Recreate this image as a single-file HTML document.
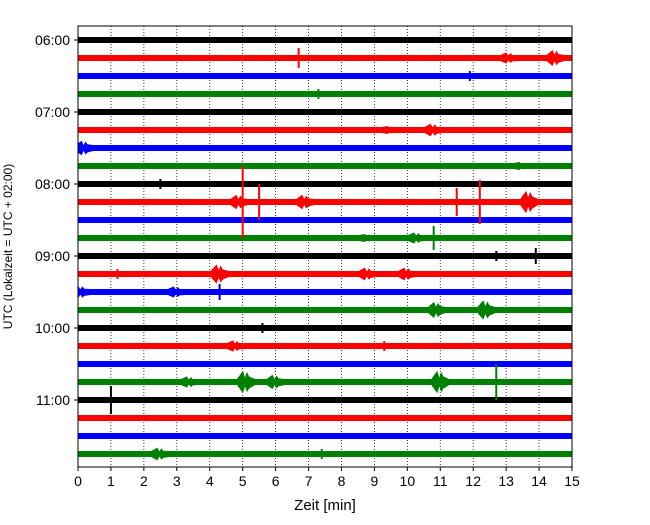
<!DOCTYPE html>
<html><head><meta charset="utf-8"><style>
body{margin:0;background:#fff;}
svg text{font-family:"Liberation Sans",sans-serif;}
</style></head><body>
<svg id="chart" width="650" height="520"><defs><clipPath id="pc"><rect x="78" y="26" width="494" height="441"/></clipPath></defs></svg>
<script>
const rowLabels=["06:00","","","","07:00","","","","08:00","","","","09:00","","","","10:00","","","","11:00","","",""];
const rowColors=["#000000","#ff0000","#0000ff","#008000"];
const xTicks=[0,1,2,3,4,5,6,7,8,9,10,11,12,13,14,15];
// events: [row, minute, halfAmplitudePx, type]
const eventRows=[1,1,1,2,3,5,5,6,7,8,9,9,9,9,9,9,9,11,11,11,12,12,13,13,13,13,14,14,14,15,15,16,17,17,19,19,19,19,19,20,23,23];
const eventMinutes=[6.7,13.1,14.5,11.9,7.3,10.8,9.5,0.2,13.5,2.5,5.0,5.5,6.9,11.5,12.2,13.7,4.9,10.8,10.3,8.8,13.9,12.7,4.3,8.8,10.0,1.2,0.1,3.0,4.3,10.9,12.4,5.6,4.8,9.3,5.1,6.0,3.4,11.0,12.7,1.0,2.5,7.4];
const eventAmps=[10,7,10,5,5,8,5,9,5,5,36,18,9,14,22,14,9,12,7,5,8,5,12,8,8,5,8,7,8,10,12,5,7,5,14,9,7,14,18,14,8,5];
const eventTypes=["s","b","b","s","s","b","b","b","b","s","s","s","b","s","s","b","b","s","b","b","s","s","b","b","b","s","b","b","s","b","b","s","b","s","b","b","b","b","s","s","b","s"];
const NS="http://www.w3.org/2000/svg";
const svg=document.getElementById('chart');
const L=78,R=572,T=26,B=467;
const x=m=>L+(m/15)*(R-L);
const y=r=>40+r*18;
function mk(tag,attrs,parent){const e=document.createElementNS(NS,tag);for(const k in attrs)e.setAttribute(k,attrs[k]);(parent||svg).appendChild(e);return e;}
xTicks.forEach(t=>{
  const g=mk('line',{x1:x(t),x2:x(t),y1:T,y2:B,stroke:'#000','stroke-width':0.8,'stroke-dasharray':'1,2'});
  
  
});
const grp=mk('g',{'clip-path':'url(#pc)'});
rowLabels.forEach((lab,r)=>{
  const c=rowColors[r%4];
  const band=mk('rect',{x:L,y:y(r)-3,width:R-L,height:6,fill:c},grp);
  
  
});
eventRows.forEach((r,i)=>{
  const c=rowColors[r%4];const cx=x(eventMinutes[i]);const a=eventAmps[i];const cy=y(r);
  let el;
  if(eventTypes[i]==='s'){
    el=mk('rect',{x:cx-1,y:cy-a,width:2,height:2*a,fill:c},grp);
  }else{
    const w=9,h=a*0.8;
    el=mk('polygon',{points:`${cx-w},${cy-3} ${cx-w/3},${cy-h} ${cx-1},${cy-h*0.4} ${cx+1},${cy-h*0.9} ${cx+w/3},${cy-h*0.5} ${cx+w},${cy-3} ${cx+w},${cy+3} ${cx+w/3},${cy+h*0.6} ${cx+1},${cy+h*0.9} ${cx-1},${cy+h*0.4} ${cx-w/3},${cy+h} ${cx-w},${cy+3}`,fill:c},grp);
  }
  
  
});
const fr=mk('rect',{x:L,y:T,width:R-L,height:B-T,fill:'none',stroke:'#000','stroke-width':1});


xTicks.forEach(t=>{
  const tk=mk('line',{x1:x(t),x2:x(t),y1:B,y2:B+4,stroke:'#000'});
  
  
  const tx=mk('text',{x:x(t),y:B+19,'text-anchor':'middle','font-size':14});
  tx.textContent=t;
  
  
});
rowLabels.forEach((lab,r)=>{
  if(!lab)return;
  const tk=mk('line',{x1:L-4,x2:L,y1:y(r),y2:y(r),stroke:'#000'});
  
  
  const tx=mk('text',{x:L-8,y:y(r)+5,'text-anchor':'end','font-size':14});
  tx.textContent=lab;
  
  
});
const xl=mk('text',{x:(L+R)/2,y:510,'text-anchor':'middle','font-size':15});
xl.textContent='Zeit  [min]';


const yl=mk('text',{x:0,y:0,'text-anchor':'middle','font-size':12,transform:`translate(12,${(T+B)/2}) rotate(-90)`});
yl.textContent='UTC (Lokalzeit = UTC + 02:00)';


</script>
</body></html>
